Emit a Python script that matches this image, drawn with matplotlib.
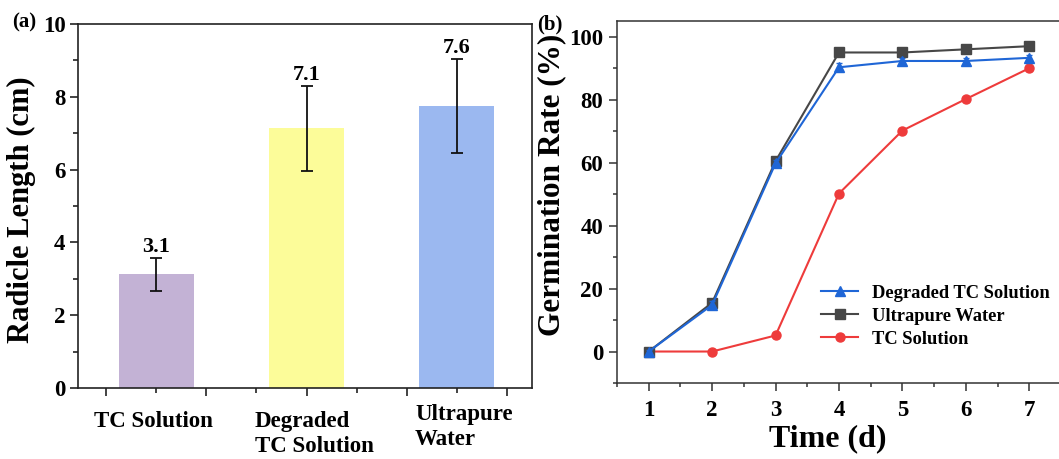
import numpy as np
import matplotlib.pyplot as plt
from matplotlib.lines import Line2D
from matplotlib.ticker import FixedLocator, MultipleLocator

plt.rcParams['font.family'] = ['Liberation Serif', 'DejaVu Serif']
plt.rcParams['font.weight'] = 'bold'

# (a) radicle length
groups = ['TC Solution', 'Degraded\nTC Solution', 'Ultrapure\nWater']
lengths = [3.12, 7.14, 7.75]
length_err = [0.45, 1.17, 1.30]
length_labels = ['3.1', '7.1', '7.6']
bar_colors = ['#C3B2D5', '#FCFC99', '#9BB8F0']

# (b) germination rate
days = [1, 2, 3, 4, 5, 6, 7]
degraded_rate = [0, 14.8, 59.8, 90.3, 92.3, 92.3, 93.3]
degraded_err = [0.6, 1.2, 1.2, 1.2, 1.0, 1.0, 1.0]
ultrapure_rate = [0, 15.5, 60.5, 95.0, 95.0, 96.0, 97.0]
ultrapure_err = [0.5, 1.0, 1.0, 0.8, 0.8, 0.8, 0.8]
tc_rate = [0, 0, 5.1, 50.2, 70.2, 80.2, 90.0]
tc_err = [0.0, 0.0, 0.8, 0.8, 0.8, 0.8, 0.8]

W, H = 1059, 459
fig = plt.figure(figsize=(W / 100, H / 100), dpi=100)
ax1 = fig.add_axes([78 / W, 1 - 388 / H, (532 - 78) / W, (388 - 24) / H])
ax2 = fig.add_axes([617 / W, 1 - 383 / H, (1061 - 617) / W, (383 - 21) / H])

# ---- panel (a)
xpos = np.arange(1, len(groups) + 1)
ax1.bar(xpos, lengths, width=0.5, color=bar_colors, zorder=2)
ax1.errorbar(xpos, lengths, yerr=length_err, fmt='none', ecolor='#111111',
             elinewidth=1.3, capsize=4, capthick=1.3, zorder=3)
for x, v, e, s in zip(xpos, lengths, length_err, length_labels):
    ax1.annotate(s, (x, v + e), xytext=(0, 4), textcoords='offset points',
                 ha='center', va='baseline', fontsize=16, fontweight='bold')

ax1.set_xlim(0.48, 3.5)
ax1.set_ylim(0, 10)
ax1.xaxis.set_major_locator(FixedLocator([2 / 3, 4 / 3, 2, 8 / 3, 10 / 3]))
ax1.xaxis.set_minor_locator(FixedLocator([1, 5 / 3, 7 / 3, 3]))
ax1.set_xticklabels([])
ax1.yaxis.set_major_locator(MultipleLocator(2))
ax1.yaxis.set_minor_locator(MultipleLocator(1))
ax1.tick_params(axis='both', which='major', direction='out', length=6,
                width=1.2, labelsize=16.5, pad=3, color='#222222')
ax1.tick_params(axis='both', which='minor', direction='out', length=3.5,
                width=1.2, color='#222222')
for sp in ax1.spines.values():
    sp.set_linewidth(1.2)
    sp.set_color('#222222')
ax1.set_ylabel('Radicle Length (cm)', fontsize=22, fontweight='bold')
ax1.yaxis.set_label_coords(-0.093, 0.49)

# category labels below the bars
fig.text(153 / W, 1 - 411 / H, groups[0], ha='center', va='top',
         fontsize=16.5, fontweight='bold')
fig.text(255 / W, 1 - 411 / H, groups[1], ha='left', va='top',
         fontsize=16.5, fontweight='bold', linespacing=1.25)
fig.text(415 / W, 1 - 404 / H, groups[2], ha='left', va='top',
         fontsize=16.5, fontweight='bold', linespacing=1.25)

fig.text(12 / W, 1 - 22 / H, '(a)', ha='left', va='center', fontsize=15,
         fontweight='bold')

# ---- panel (b)
series = [
    (tc_rate, tc_err, '#EE3B3B', 'o', 6.5, 'TC Solution', 3),
    (ultrapure_rate, ultrapure_err, '#474747', 's', 6.5, 'Ultrapure Water', 4),
    (degraded_rate, degraded_err, '#1F66D6', '^', 7.5, 'Degraded TC Solution', 5),
]
handles = {}
for rate, err, col, mk, ms, lab, z in series:
    ax2.errorbar(days, rate, yerr=err, color=col, marker=mk, markersize=ms,
                 linewidth=1.5, capsize=2.5, elinewidth=1, zorder=z)
    handles[lab] = Line2D([], [], color=col, marker=mk, markersize=ms,
                          linewidth=1.5)

ax2.set_xlim(0.5, 7.5)
ax2.set_ylim(-10, 105)
ax2.xaxis.set_major_locator(MultipleLocator(1))
ax2.xaxis.set_minor_locator(MultipleLocator(0.5))
ax2.yaxis.set_major_locator(MultipleLocator(20))
ax2.yaxis.set_minor_locator(MultipleLocator(10))
ax2.tick_params(axis='both', which='major', direction='out', length=6,
                width=1.1, labelsize=16.5, color='#333333')
ax2.tick_params(axis='x', which='major', pad=6)
ax2.tick_params(axis='y', which='major', pad=4)
ax2.tick_params(axis='both', which='minor', direction='out', length=3,
                width=1.1, color='#333333')
for sp in ax2.spines.values():
    sp.set_linewidth(1.1)
    sp.set_color('#333333')
ax2.set_xlabel('Time (d)', fontsize=23, fontweight='bold')
ax2.xaxis.set_label_coords(0.475, -0.113)
ax2.set_ylabel('Germination Rate (%)', fontsize=22.5, fontweight='bold')
ax2.yaxis.set_label_coords(-0.114, 0.547)

order = ['Degraded TC Solution', 'Ultrapure Water', 'TC Solution']
ax2.legend([handles[k] for k in order], order,
           loc='upper left', bbox_to_anchor=(0.439, 0.297),
           frameon=False, fontsize=13.3, borderpad=0, handlelength=2.0,
           handletextpad=0.75, labelspacing=0.32)

fig.text(537 / W, 1 - 24 / H, '(b)', ha='left', va='center', fontsize=15,
         fontweight='bold')

fig.savefig('out.png', dpi=100)
